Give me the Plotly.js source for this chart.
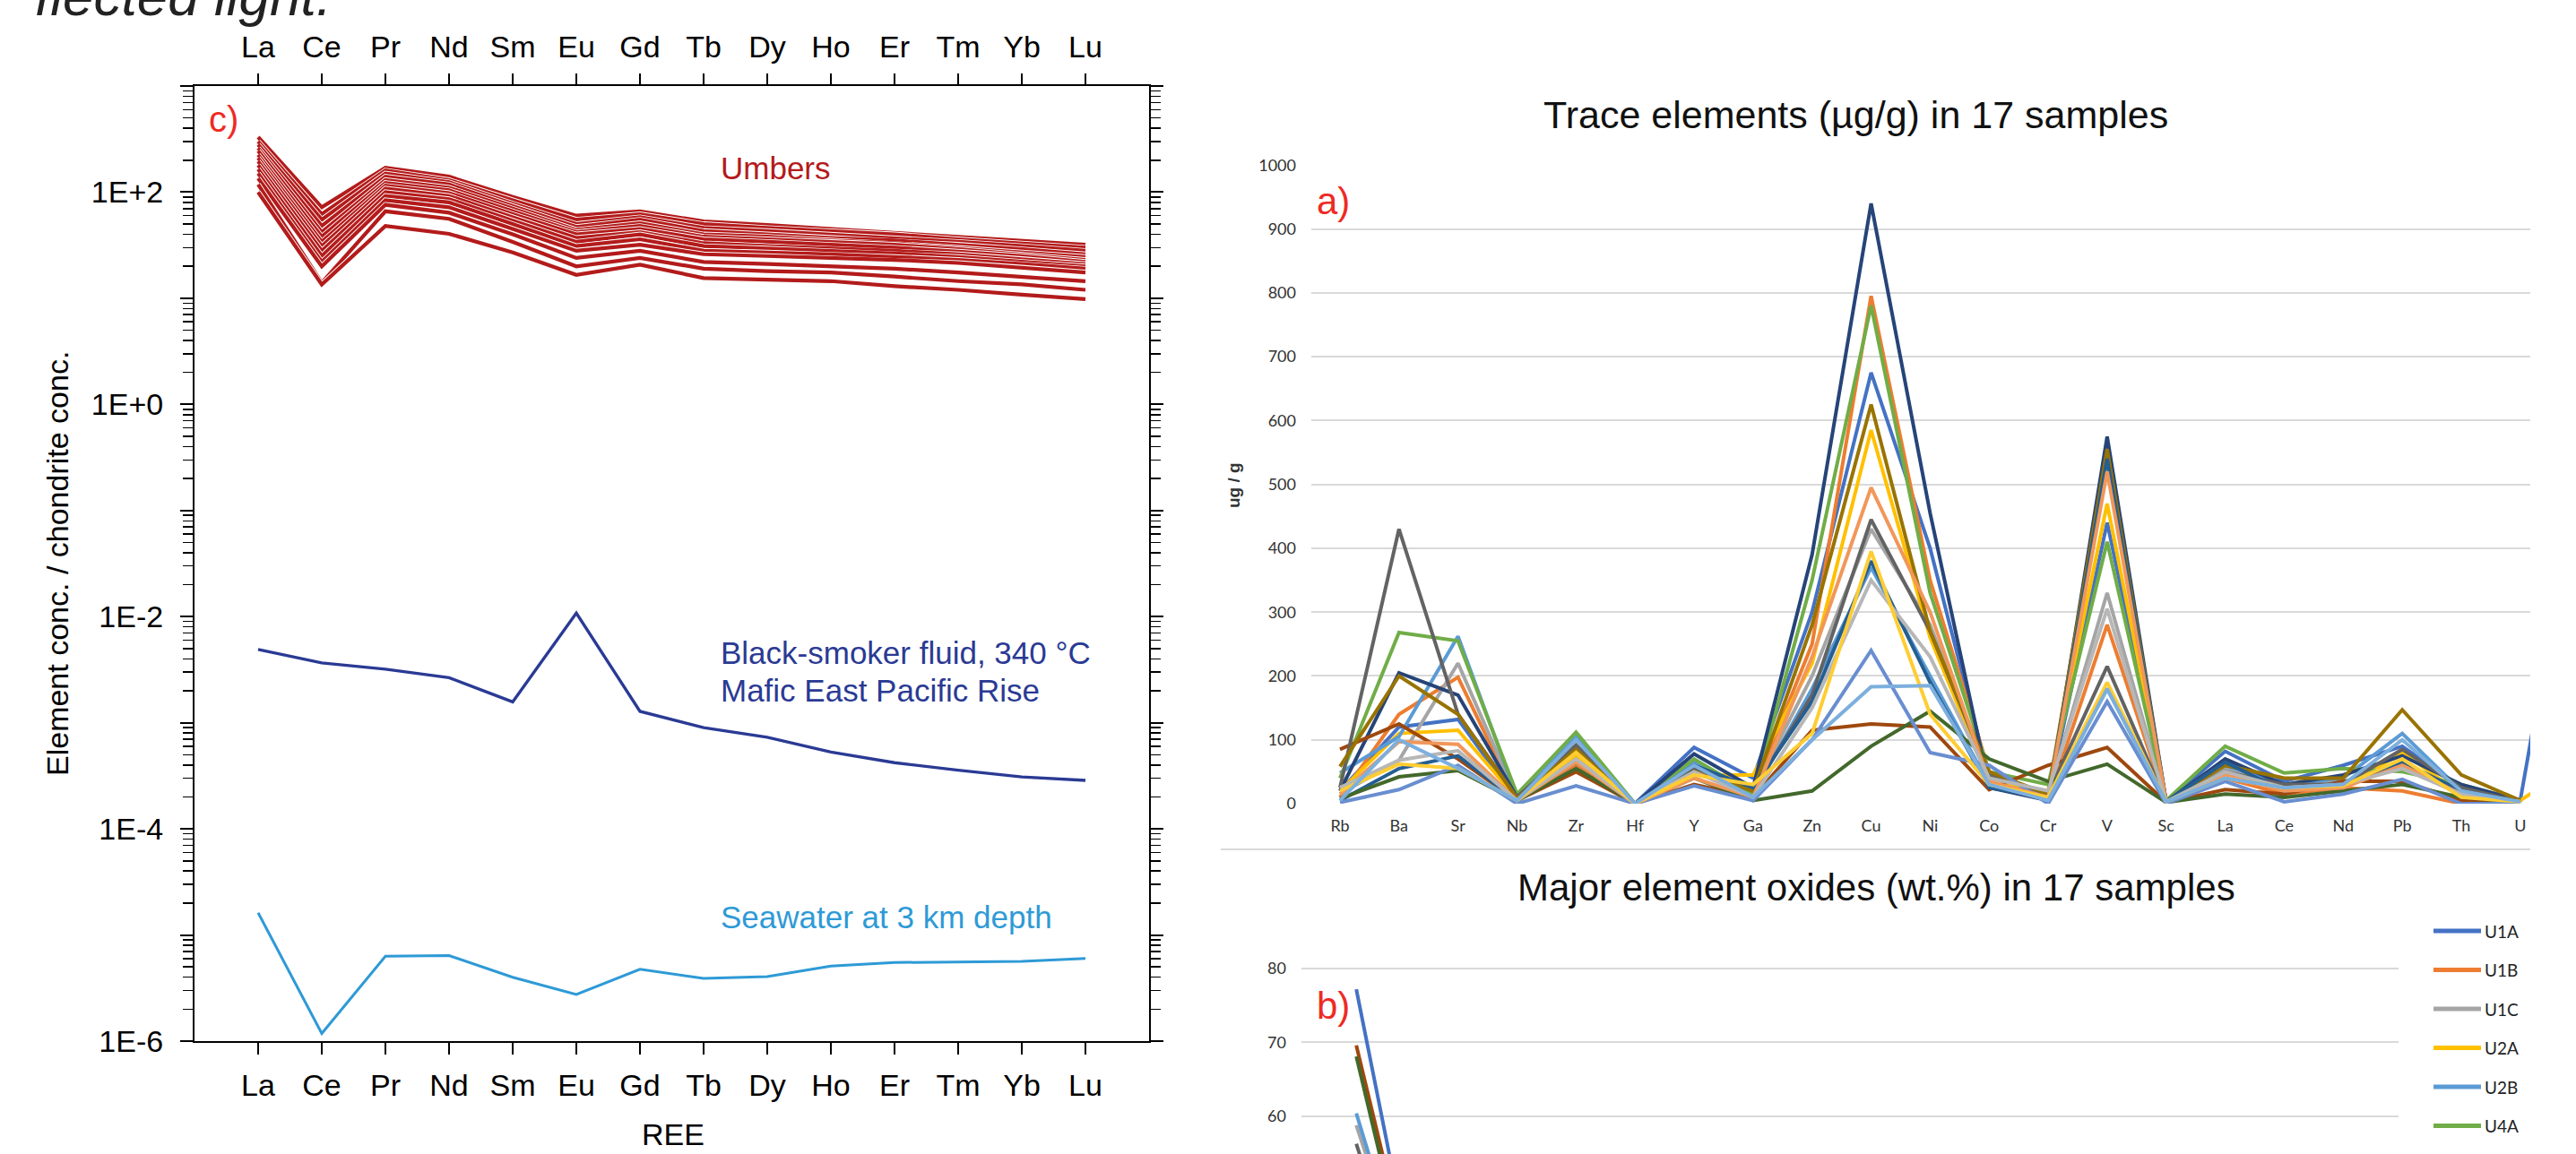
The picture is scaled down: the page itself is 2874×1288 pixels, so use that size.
<!DOCTYPE html>
<html><head><meta charset="utf-8">
<script src="https://cdn.plot.ly/plotly-3.0.1.min.js"></script>
<style>html,body{margin:0;padding:0;background:#fff;overflow:hidden}#chart{width:2874px;height:1288px}</style>
</head><body><div id="chart"></div>
<script>
const W = 2874, H = 1288;

// ---------- Panel c: REE / chondrite (log scale) ----------
const reeElements = ['La','Ce','Pr','Nd','Sm','Eu','Gd','Tb','Dy','Ho','Er','Tm','Yb','Lu'];
const umber01 = [330, 72, 170, 140, 90, 60, 66, 53, 49, 45, 42, 38, 35, 32];
const umber02 = [300, 62, 160, 130, 84, 55, 62, 50, 46, 43, 40, 36, 33, 30];
const umber03 = [280, 55, 150, 124, 78, 50, 58, 46, 43, 40, 37, 34, 31, 28];
const umber04 = [260, 48, 140, 118, 74, 47, 55, 43, 40, 37, 35, 32, 29, 26];
const umber05 = [245, 42, 130, 110, 70, 44, 51, 40, 38, 35, 33, 30, 27, 24.5];
const umber06 = [225, 38, 122, 104, 66, 42, 48, 38, 36, 34, 32, 29, 26, 23];
const umber07 = [210, 34, 115, 98, 62, 40, 45, 36, 34, 32, 30, 27.5, 25, 22];
const umber08 = [195, 31, 108, 92, 58, 37, 42, 33, 31, 29.5, 28, 26, 23.5, 21];
const umber09 = [180, 28, 100, 86, 54, 34, 40, 31, 29.5, 28, 26.5, 24.5, 22, 20];
const umber10 = [165, 25, 92, 80, 50, 31, 36, 28, 27, 26, 24.5, 23, 21, 19];
const umber11 = [150, 22, 84, 72, 45, 28, 32, 26, 25, 24, 23, 21.5, 19.5, 17.5];
const umber12 = [135, 20, 76, 64, 40, 24, 28, 22, 21, 20, 19, 17.5, 16, 14.5];
const umber13 = [118, 14, 66, 56, 34, 20, 24, 19, 18, 17.5, 16, 14.5, 13.5, 12];
const umber14 = [100, 13.5, 48, 40.5, 27, 16.6, 20.7, 15.5, 15, 14.5, 13, 12, 10.8, 9.8];
const blackSmokerFluid = [4.9e-3, 3.66e-3, 3.2e-3, 2.66e-3, 1.57e-3, 1.08e-2, 1.28e-3, 9.0e-4, 7.3e-4, 5.3e-4, 4.2e-4, 3.57e-4, 3.09e-4, 2.86e-4];
const seawater3km = [1.62e-5, 1.18e-6, 6.3e-6, 6.4e-6, 4.0e-6, 2.75e-6, 4.75e-6, 3.9e-6, 4.05e-6, 5.1e-6, 5.5e-6, 5.55e-6, 5.65e-6, 6.0e-6];

// ---------- Panel a: trace elements (ug/g) ----------
const traceElements = ['Rb','Ba','Sr','Nb','Zr','Hf','Y','Ga','Zn','Cu','Ni','Co','Cr','V','Sc','La','Ce','Nd','Pb','Th','U'];
// 21 values per sample, plus a 22nd value for the next (cropped) category
const tU1A = [20,120,132,5,70,0,88,40,300,675,400,40,10,440,3,82,35,60,90,25,5,530];
const tU1B = [10,140,198,5,60,0,50,20,250,795,350,50,5,280,2,40,15,25,20,0,3,null];
const tU1C = [15,68,220,8,80,0,60,20,200,430,280,40,15,330,3,55,25,35,55,20,3,null];
const tU2A = [20,110,115,8,75,0,45,45,220,585,260,35,20,470,4,45,25,25,80,15,5,65];
const tU2B = [48,105,262,10,105,0,65,15,180,370,200,30,5,180,3,60,30,40,110,20,3,null];
const tU4A = [40,268,255,15,112,0,70,15,350,780,330,50,30,410,5,90,48,55,50,30,5,null];
const tS07 = [20,205,170,10,90,0,78,25,390,940,455,25,5,575,3,70,30,45,75,30,5,null];
const tS08 = [85,125,70,5,50,0,30,10,115,125,120,22,60,88,2,22,15,35,35,5,2,null];
const tS09 = [25,430,140,10,92,0,55,20,170,445,270,45,15,215,3,50,30,30,85,25,3,null];
const tS10 = [58,200,140,8,85,0,50,20,280,625,270,50,15,555,3,60,40,40,147,45,5,null];
const tS11 = [5,55,75,5,65,0,60,25,160,380,190,25,10,540,3,65,20,30,65,20,3,null];
const tS12 = [8,42,52,5,55,0,40,5,20,90,145,70,35,62,2,15,10,20,30,10,2,null];
const tS13 = [2,22,60,0,28,0,28,5,100,240,80,60,0,160,0,35,3,15,38,0,0,null];
const tS14 = [15,97,93,5,65,0,40,10,230,495,300,35,10,520,3,45,20,25,60,15,3,null];
const tS15 = [25,68,83,5,70,0,50,10,150,350,230,40,20,305,3,50,25,30,55,15,3,null];
const tS16 = [20,62,55,5,80,0,45,30,110,395,140,30,10,190,3,40,25,28,70,10,3,null];
const tS17 = [5,100,55,5,100,0,60,10,100,183,185,30,5,180,3,40,25,30,100,20,3,null];
const traceSeries = [tU1A,tU1B,tU1C,tU2A,tU2B,tU4A,tS07,tS08,tS09,tS10,tS11,tS12,tS13,tS14,tS15,tS16,tS17];
const sampleColors = ['#4472C4','#ED7D31','#A5A5A5','#FFC000','#5B9BD5','#70AD47','#264478','#9E480E','#636363','#997300','#255E91','#43682B','#698ED0','#F1975A','#B7B7B7','#FFCD33','#7CAFDD'];
const legendNames = ['U1A','U1B','U1C','U2A','U2B','U4A'];

// ---------- Panel b: major oxides (wt.%), first two categories (rest is cropped) ----------
const oxU1A = [77.2, 3];
const oxU1C = [58.8, 14];
const oxU2B = [60.4, 12];
const oxS08 = [69.6, 8];
const oxS09 = [56.3, 10];
const oxS12 = [68.1, 6];
const oxideSeries = [[0, oxU1A],[2, oxU1C],[4, oxU2B],[7, oxS08],[8, oxS09],[11, oxS12]];

const traces = [];
const umbers = [umber01,umber02,umber03,umber04,umber05,umber06,umber07,umber08,umber09,umber10,umber11,umber12,umber13,umber14];
umbers.forEach(u => {
  traces.push({x: reeElements, y: u, xaxis:'x', yaxis:'y', mode:'lines', line:{color:'#ffffff', width:6}, hoverinfo:'skip'});
  traces.push({x: reeElements, y: u, xaxis:'x', yaxis:'y', mode:'lines', line:{color:'#b31b1b', width:4.2}});
});
traces.push({x: reeElements, y: blackSmokerFluid, xaxis:'x', yaxis:'y', mode:'lines', line:{color:'#2a3a94', width:3.4}});
traces.push({x: reeElements, y: seawater3km, xaxis:'x', yaxis:'y', mode:'lines', line:{color:'#2e9ad6', width:3}});
traces.push({x: reeElements, y: reeElements.map(()=>null), xaxis:'x2', yaxis:'y', mode:'lines', hoverinfo:'skip'});

traceSeries.forEach((s, i) => {
  traces.push({x: s.map((_, j) => j), y: s, xaxis:'x3', yaxis:'y3', mode:'lines', line:{color: sampleColors[i], width:4}});
});
oxideSeries.forEach(([i, s]) => {
  traces.push({x: s.map((_, j) => j), y: s, xaxis:'x4', yaxis:'y4', mode:'lines', line:{color: sampleColors[i], width:4}});
});

const decades = [1e-6,1e-5,1e-4,1e-3,1e-2,1e-1,1,10,100,1000];
const decadeText = ['1E-6','','1E-4','','1E-2','','1E+0','','1E+2',''];
const minorVals = [];
decades.slice(0, -1).forEach(d => { for (let k = 2; k <= 9; k++) minorVals.push(d * k); });

const leftFont = 'Liberation Sans, Arial, sans-serif';
const rightFont = 'Lato, Liberation Sans, sans-serif';
const reeAxis = {
  type:'category', categoryorder:'array', categoryarray: reeElements, range:[-1, 14],
  ticks:'outside', ticklen:13, tickwidth:2, tickcolor:'#000',
  showgrid:false, zeroline:false, tickfont:{family:leftFont, size:34, color:'#000'}
};

const layout = {
  width: W, height: H, margin:{l:0, r:0, t:0, b:0},
  paper_bgcolor:'#fff', plot_bgcolor:'rgba(0,0,0,0)', showlegend:false,
  font:{family:leftFont, color:'#000'},
  xaxis: Object.assign({}, reeAxis, {domain:[217/W, 1282/W], anchor:'y', showline:true, linewidth:2, linecolor:'#000', mirror:true, ticklabelstandoff:5}),
  xaxis2: Object.assign({}, reeAxis, {overlaying:'x', side:'top', anchor:'y', showline:false, ticklabelstandoff:4}),
  yaxis: {
    domain:[1 - 1162/H, 1 - 96/H], anchor:'x', type:'log', range:[-6, 3],
    tickmode:'array', tickvals: decades, ticktext: decadeText,
    ticks:'outside', ticklen:14, tickwidth:2, tickcolor:'#000',
    minor:{tickmode:'array', tickvals: minorVals, ticks:'outside', ticklen:11, tickwidth:1.5, tickcolor:'#000'},
    showline:true, linewidth:2, linecolor:'#000', mirror:'ticks',
    showgrid:false, zeroline:false, tickfont:{family:leftFont, size:34, color:'#000'}, ticklabelstandoff:12
  },
  xaxis3: {
    domain:[1463/W, 2823/W], anchor:'y3', range:[-0.486, 20.17],
    tickmode:'array', tickvals: traceElements.map((_, i) => i), ticktext: traceElements,
    ticks:'', showline:false, showgrid:false, zeroline:false,
    tickfont:{family:rightFont, size:18, color:'#333'}, ticklabelstandoff:12
  },
  yaxis3: {
    domain:[1 - 897/H, 1 - 184.3/H], anchor:'x3', range:[0, 1000], dtick:100,
    showgrid:true, gridcolor:'#d9d9d9', gridwidth:2, zeroline:false, showline:false, ticks:'',
    tickfont:{family:rightFont, size:18, color:'#333'}, ticklabelstandoff:16
  },
  xaxis4: {
    domain:[1452/W, 2676/W], anchor:'y4', range:[-0.5, 9.5],
    showticklabels:false, ticks:'', showline:false, showgrid:false, zeroline:false
  },
  yaxis4: {
    domain:[0, (H - 1077)/H], anchor:'x4', range:[54.91, 80.48], tickvals:[60, 70, 80],
    showgrid:true, gridcolor:'#d9d9d9', gridwidth:2, zeroline:false, showline:false, ticks:'',
    tickfont:{family:rightFont, size:18, color:'#333'}, ticklabelstandoff:16
  },
  shapes: [
    {type:'line', xref:'paper', yref:'paper', x0:1362/W, x1:2823/W, y0:1 - 948/H, y1:1 - 948/H, line:{color:'#d9d9d9', width:2}}
  ],
  annotations: [
    {text:'<i>flected light.</i>', xref:'paper', yref:'paper', x:37/W, y:1 - 32/H, xanchor:'left', yanchor:'bottom', showarrow:false, font:{family:'Liberation Sans, Arial, sans-serif', size:62, color:'#222'}},
    {text:'c)', xref:'paper', yref:'paper', x:231/W, y:1 - 133/H, xanchor:'left', yanchor:'middle', showarrow:false, font:{family:leftFont, size:40, color:'#ee2a24'}},
    {text:'Umbers', xref:'paper', yref:'paper', x:802/W, y:1 - 187/H, xanchor:'left', yanchor:'middle', showarrow:false, font:{family:leftFont, size:35, color:'#b31b1b'}},
    {text:'Black-smoker fluid, 340 °C', xref:'paper', yref:'paper', x:802/W, y:1 - 728/H, xanchor:'left', yanchor:'middle', showarrow:false, font:{family:leftFont, size:35, color:'#2a3a94'}},
    {text:'Mafic East Pacific Rise', xref:'paper', yref:'paper', x:802/W, y:1 - 770/H, xanchor:'left', yanchor:'middle', showarrow:false, font:{family:leftFont, size:35, color:'#2a3a94'}},
    {text:'Seawater at 3 km depth', xref:'paper', yref:'paper', x:802/W, y:1 - 1023/H, xanchor:'left', yanchor:'middle', showarrow:false, font:{family:leftFont, size:35, color:'#2e9ad6'}},
    {text:'Element conc. / chondrite conc.', xref:'paper', yref:'paper', x:64/W, y:1 - 629/H, xanchor:'center', yanchor:'middle', textangle:-90, showarrow:false, font:{family:leftFont, size:34, color:'#000'}},
    {text:'REE', xref:'paper', yref:'paper', x:751/W, y:1 - 1266/H, xanchor:'center', yanchor:'middle', showarrow:false, font:{family:leftFont, size:34, color:'#000'}},
    {text:'Trace elements (µg/g) in 17 samples', xref:'paper', yref:'paper', x:2070/W, y:1 - 128/H, xanchor:'center', yanchor:'middle', showarrow:false, font:{family:leftFont, size:43, color:'#111'}},
    {text:'a)', xref:'paper', yref:'paper', x:1467/W, y:1 - 225/H, xanchor:'left', yanchor:'middle', showarrow:false, font:{family:leftFont, size:42, color:'#ee2a24'}},
    {text:'<b>ug / g</b>', xref:'paper', yref:'paper', x:1377/W, y:1 - 542/H, xanchor:'center', yanchor:'middle', textangle:-90, showarrow:false, font:{family:leftFont, size:19, color:'#333'}},
    {text:'Major element oxides (wt.%) in 17 samples', xref:'paper', yref:'paper', x:2093/W, y:1 - 990/H, xanchor:'center', yanchor:'middle', showarrow:false, font:{family:leftFont, size:42, color:'#111'}},
    {text:'b)', xref:'paper', yref:'paper', x:1467/W, y:1 - 1122/H, xanchor:'left', yanchor:'middle', showarrow:false, font:{family:leftFont, size:42, color:'#ee2a24'}}
  ]
};

// manual legend for panel b
legendNames.forEach((name, i) => {
  const yy = 1 - (1039 + i * 43.5) / H;
  layout.shapes.push({type:'line', xref:'paper', yref:'paper', x0:2715/W, x1:2768/W, y0:yy, y1:yy, line:{color: sampleColors[i], width:5}});
  layout.annotations.push({text:name, xref:'paper', yref:'paper', x:2770/W, y:yy, xanchor:'left', yanchor:'middle', showarrow:false, font:{family:rightFont, size:19, color:'#222'}});
});

Plotly.newPlot('chart', traces, layout, {staticPlot:true, displayModeBar:false});
</script>
</body></html>
